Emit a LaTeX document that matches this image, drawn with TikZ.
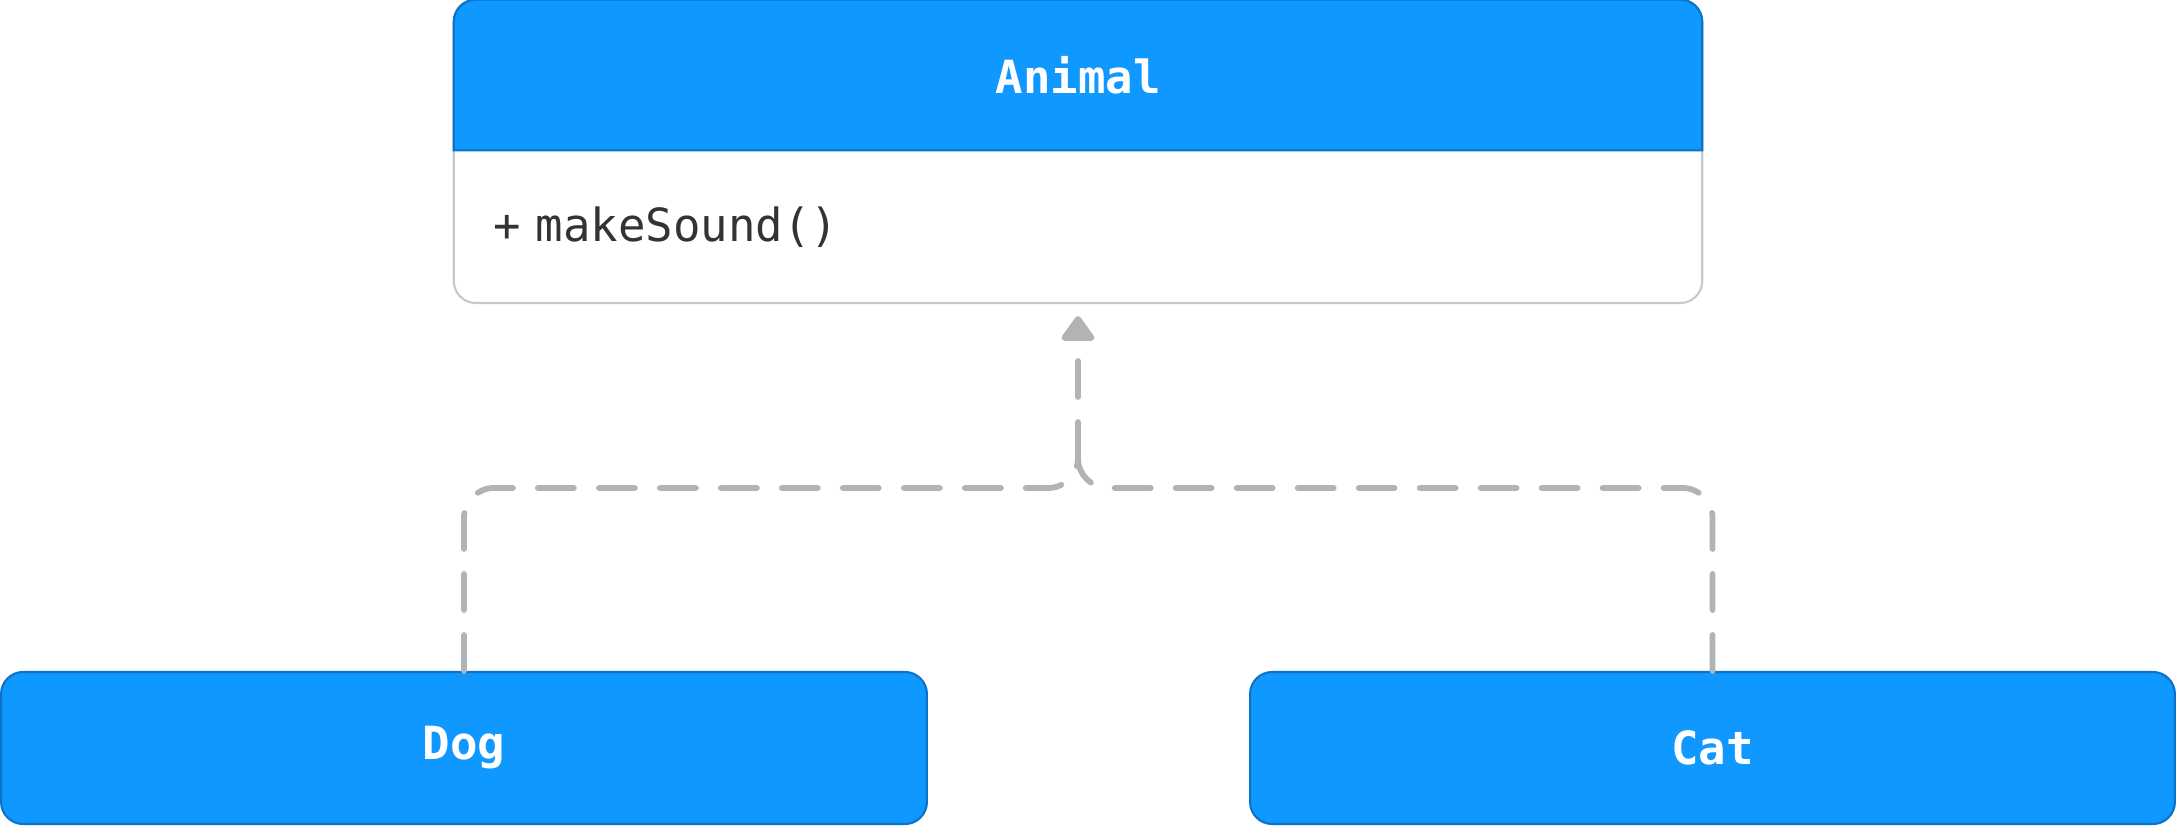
\documentclass[tikz,border=0pt]{standalone}
\usepackage{fontspec}
\setmonofont{DejaVu Sans Mono}
\usetikzlibrary{arrows.meta, positioning}
\definecolor{classblue}{RGB}{15, 152, 255}
\definecolor{classedge}{RGB}{10, 114, 200}
\definecolor{bodyedge}{RGB}{200, 200, 200}
\definecolor{linkgray}{RGB}{179, 179, 179}
\definecolor{optext}{RGB}{51, 51, 51}

\begin{document}
\begin{tikzpicture}[x=0.02cm, y=0.02cm]
    % Styles
    \tikzstyle{headbox} = [rectangle, minimum width=24.96cm, minimum height=3cm,
        inner sep=0pt, text=white, font=\ttfamily\bfseries\fontsize{26}{30}\selectfont]
    \tikzstyle{opsbox} = [rectangle, minimum height=3.04cm, inner xsep=0.78cm,
        inner ysep=0pt, text width=23.4cm, align=left, text=optext,
        font=\ttfamily\fontsize{26}{30}\selectfont]
    \tikzstyle{leafbox} = [rectangle, draw=classedge, fill=classblue, line width=1.2pt,
        rounded corners=0.44cm, minimum height=3.04cm, inner sep=0pt, text=white,
        font=\ttfamily\bfseries\fontsize{26}{30}\selectfont]
    \tikzstyle{inherit} = [draw=linkgray, line width=3.3pt, line cap=round,
        dash pattern=on 0.72cm off 0.5cm, rounded corners=0.6cm]
    \useasboundingbox (0,0) rectangle (2176,826);

    % Nodes
    \node [headbox] (animal) at (1078,751) {Animal};
    \node [opsbox, below=0pt of animal] (animalops) {+ makeSound()};
    \node [leafbox, minimum width=18.52cm] (dog) at (464,78) {Dog};
    \node [leafbox, minimum width=18.5cm] (cat) at (1712.5,78) {Cat};
    \coordinate (fork) at (1078,368);

    % Class box
    \draw [bodyedge, fill=white, line width=1.2pt, rounded corners=0.44cm]
        (animal.north west) rectangle (animalops.south east);
    \draw [classedge, fill=classblue, line width=1.2pt]
        (animal.south west) -- ([yshift=-0.44cm]animal.north west)
        arc [start angle=180, end angle=90, radius=0.44cm]
        -- ([xshift=-0.44cm]animal.north east)
        arc [start angle=90, end angle=0, radius=0.44cm]
        -- (animal.south east) -- cycle;
    \node [headbox] at (animal) {Animal};
    \node [opsbox] at (animalops) {+ makeSound()};

    % Arrows
    \draw [inherit] (dog.north) -- (dog.north |- 0,338) -- (fork |- 0,338) -- (fork);
    \draw [inherit] (cat.north) -- (cat.north |- 0,338) -- (fork |- 0,338) -- (fork);
    \draw [inherit, -{Triangle[width=0.74cm, length=0.54cm, round]}, shorten >=0.26cm]
        (fork) -- (animalops.south);
\end{tikzpicture}
\end{document}
